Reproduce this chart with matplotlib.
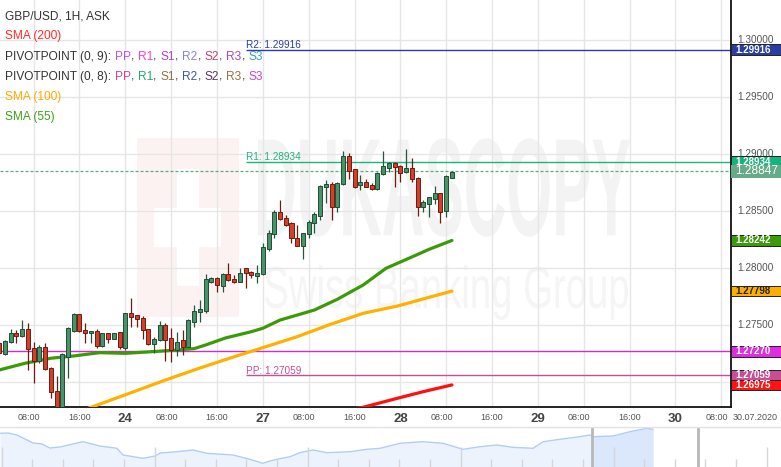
import matplotlib
matplotlib.use("Agg")
import numpy as np
import matplotlib.pyplot as plt
from matplotlib.patches import Rectangle, PathPatch
from matplotlib.lines import Line2D
from matplotlib.textpath import TextPath
from matplotlib.font_manager import FontProperties
from matplotlib.transforms import Affine2D, blended_transform_factory

plt.rcParams['font.family'] = ['Liberation Sans', 'DejaVu Sans']

W, H = 781, 467

# hourly candles, hour 0 = 24.07 00:00
candle_hours = np.arange(-22, 58)
opens = [1.27340, 1.27249, 1.27348, 1.27427, 1.27407, 1.27462, 1.27296, 1.27187, 1.27304, 1.27123,
         1.26919, 1.26700, 1.27223, 1.27451, 1.27594, 1.27457, 1.27427, 1.27451, 1.27316, 1.27433,
         1.27381, 1.27436, 1.27302, 1.27603, 1.27585, 1.27559, 1.27462, 1.27331, 1.27369, 1.27500,
         1.27384, 1.27281, 1.27369, 1.27310, 1.27530, 1.27617, 1.27623, 1.27880, 1.27913, 1.27845,
         1.27948, 1.27904, 1.27880, 1.27997, 1.27965, 1.27933, 1.27945, 1.28167, 1.28296, 1.28489,
         1.28436, 1.28392, 1.28266, 1.28196, 1.28296, 1.28398, 1.28459, 1.28708, 1.28737, 1.28533,
         1.28734, 1.28983, 1.28866, 1.28731, 1.28752, 1.28728, 1.28693, 1.28822, 1.28880, 1.28924,
         1.28895, 1.28839, 1.28874, 1.28787, 1.28532, 1.28562, 1.28605, 1.28655, 1.28500, 1.28793]
highs = [1.27354, 1.27369, 1.27462, 1.27457, 1.27544, 1.27515, 1.27354, 1.27322, 1.27340, 1.27135,
         1.27053, 1.27252, 1.27480, 1.27606, 1.27600, 1.27515, 1.27448, 1.27462, 1.27433, 1.27433,
         1.27433, 1.27436, 1.27609, 1.27734, 1.27591, 1.27579, 1.27462, 1.27392, 1.27535, 1.27515,
         1.27471, 1.27442, 1.27457, 1.27550, 1.27673, 1.27720, 1.27945, 1.27924, 1.27919, 1.27954,
         1.28041, 1.27939, 1.28003, 1.28003, 1.27974, 1.28027, 1.28223, 1.28334, 1.28512, 1.28597,
         1.28465, 1.28407, 1.28378, 1.28304, 1.28421, 1.28495, 1.28728, 1.28772, 1.28758, 1.28758,
         1.29027, 1.29006, 1.28866, 1.28816, 1.28778, 1.28743, 1.28845, 1.29027, 1.28933, 1.28933,
         1.28904, 1.29041, 1.28962, 1.28796, 1.28597, 1.28620, 1.28720, 1.28661, 1.28816, 1.28851]
lows = [1.27237, 1.27237, 1.27340, 1.27345, 1.27398, 1.27106, 1.26995, 1.27170, 1.27106, 1.26857,
        1.26650, 1.26650, 1.27033, 1.27442, 1.27442, 1.27340, 1.27345, 1.27296, 1.27304, 1.27340,
        1.27381, 1.27293, 1.27281, 1.27486, 1.27486, 1.27378, 1.27325, 1.27252, 1.27363, 1.27187,
        1.27179, 1.27228, 1.27237, 1.27304, 1.27480, 1.27530, 1.27603, 1.27866, 1.27787, 1.27793,
        1.27889, 1.27872, 1.27875, 1.27828, 1.27916, 1.27872, 1.27940, 1.28152, 1.28266, 1.28421,
        1.28369, 1.28223, 1.28193, 1.28076, 1.28261, 1.28304, 1.28421, 1.28568, 1.28421, 1.28495,
        1.28728, 1.28778, 1.28699, 1.28684, 1.28714, 1.28684, 1.28684, 1.28816, 1.28845, 1.28714,
        1.28758, 1.28836, 1.28758, 1.28456, 1.28494, 1.28450, 1.28562, 1.28392, 1.28450, 1.28787]
closes = [1.27252, 1.27360, 1.27427, 1.27407, 1.27462, 1.27287, 1.27187, 1.27304, 1.27111, 1.26910,
          1.26700, 1.27243, 1.27471, 1.27594, 1.27451, 1.27427, 1.27448, 1.27316, 1.27427, 1.27381,
          1.27433, 1.27304, 1.27603, 1.27573, 1.27550, 1.27457, 1.27331, 1.27378, 1.27500, 1.27369,
          1.27281, 1.27354, 1.27310, 1.27544, 1.27623, 1.27638, 1.27901, 1.27913, 1.27851, 1.27945,
          1.27895, 1.27880, 1.27954, 1.27954, 1.27936, 1.27954, 1.28182, 1.28304, 1.28489, 1.28427,
          1.28378, 1.28261, 1.28196, 1.28304, 1.28401, 1.28474, 1.28720, 1.28737, 1.28533, 1.28743,
          1.28983, 1.28854, 1.28708, 1.28752, 1.28714, 1.28693, 1.28836, 1.28895, 1.28924, 1.28883,
          1.28836, 1.28874, 1.28778, 1.28538, 1.28582, 1.28620, 1.28661, 1.28494, 1.28807, 1.28845]

sma55_hours = [-22, -17.5, -13, -9, -4.5, 0, 4.5, 9, 12, 14, 17.5, 22, 24, 27, 33, 37, 41.5, 45.5, 50.5, 53, 57]
sma55_vals = [1.27106, 1.27165, 1.27209, 1.27229, 1.27258, 1.27252, 1.27266, 1.27281, 1.27293, 1.27325, 1.27387,
              1.27442, 1.27472, 1.27544, 1.27632, 1.27726, 1.27851, 1.27998, 1.28108, 1.28164, 1.28242]
sma100_hours = [-7, 1.5, 7, 13, 18.5, 24, 30, 35.5, 41.5, 47.5, 53, 57]
sma100_vals = [1.26760, 1.26916, 1.27018, 1.27123, 1.27214, 1.27302, 1.27398, 1.27501, 1.27603, 1.27667,
               1.27743, 1.27798]
sma200_hours = [37, 41.5, 47.5, 52, 57]
sma200_vals = [1.26740, 1.26779, 1.26858, 1.26916, 1.26975]

pivot_start = 21
r2_level, r1_level, pp_level = 1.29916, 1.28934, 1.27059
s_level = 1.27270
last_price = 1.28847

price_ticks = [1.270, 1.275, 1.280, 1.285, 1.290, 1.295, 1.300]
time_ticks = [-16, -8, 0, 8, 16, 24, 32, 40, 48, 56, 64, 72, 80, 88, 96, 104]
time_labels = ["08:00", "16:00", "24", "08:00", "16:00", "27", "08:00", "16:00", "28",
               "08:00", "16:00", "29", "08:00", "16:00", "30", "08:00"]

pivot_names = ["PP", "R1", "S1", "R2", "S2", "R3", "S3"]
pivot9_colors = ["#c450e2", "#f03ce6", "#a444d6", "#8a82e0", "#c2406e", "#aa48c6", "#3aa2c2"]
pivot8_colors = ["#d0449a", "#22a874", "#8f7240", "#3f55b0", "#5e3563", "#a07040", "#d444c8"]

# navigator (days, height)
nav_days = [0, 0.26, 0.56, 1.08, 1.37, 1.63, 1.96, 2.52, 2.71, 3.27, 3.82, 4.02, 4.67, 5.07, 5.23, 5.78,
            6.31, 6.76, 7.61, 8.17, 8.59, 8.82, 9.05, 9.48, 9.80, 10.23, 10.69, 11.44, 11.99, 12.42,
            13.07, 13.82, 14.48, 15.13, 15.69, 16.24, 16.76, 17.42, 17.75, 18.30, 18.95, 19.28, 19.38,
            20.03, 20.59, 21.14, 21.34]
nav_level = [33.7, 34, 32, 24, 23, 19, 20, 24, 25.3, 21, 18.7, 12, 8.7, 11, 14, 15.3,
             17, 13.7, 12, 7.7, 3.7, 6, 7.7, 10.3, 14.3, 17, 14.3, 15.3, 17.7, 18.7,
             23.7, 25.3, 23.7, 17.7, 20.3, 22, 19.7, 18.7, 25.3, 27.7, 30.3, 32, 30.3,
             31, 35.3, 38.7, 37.7]

fig = plt.figure(figsize=(W / 100, H / 100), dpi=100)
fig.patch.set_facecolor("white")
ax = fig.add_axes([0, 60 / H, 731 / W, 407 / H])
ax.set_xlim(-21.87, 105.7)
ax.set_ylim(1.267814, 1.303508)
ax.set_xticks([])
ax.set_yticks([])
for s in ["top", "left"]:
    ax.spines[s].set_visible(False)
for s in ["right", "bottom"]:
    ax.spines[s].set_color("#111111")
    ax.spines[s].set_linewidth(1.3)

for p in price_ticks:
    ax.axhline(p, color="#e6e6e6", lw=1, zorder=1)
for t in time_ticks:
    ax.axvline(t, color="#e6e6e6", lw=1, zorder=1)

# watermark
px_ax = Affine2D().scale(1 / 731, -1 / 407).translate(0, 1) + ax.transAxes
ax.add_patch(Rectangle((137.3, 138.3), 101.7, 178.4, transform=px_ax, fc="#fdf2f2", ec="none", zorder=0.5))
ax.add_patch(Rectangle((176.7, 169), 22.3, 117, transform=px_ax, fc="white", ec="none", zorder=0.6))
ax.add_patch(Rectangle((154.3, 207.7), 66.7, 39, transform=px_ax, fc="white", ec="none", zorder=0.6))


def fitted_text(s, fp, box, color):
    x0, y0, x1, y1 = box
    tp = TextPath((0, 0), s, size=100, prop=fp)
    ext = tp.get_extents()
    tr = Affine2D().translate(-ext.x0, -ext.y1).scale((x1 - x0) / ext.width, -(y1 - y0) / ext.height).translate(x0, y0)
    ax.add_patch(PathPatch(tr.transform_path(tp), transform=px_ax, fc=color, ec="none", zorder=0.7))


fitted_text("DUKASCOPY", FontProperties(family="Liberation Sans", weight="bold"), (258, 138.3, 630, 236.7), "#f3f3f3")
fitted_text("Swiss Banking Group", FontProperties(family="Liberation Sans"), (265, 265, 628, 320), "#f5f5f5")

# moving averages
ax.plot(sma100_hours, sma100_vals, color="#ffb000", lw=2.3, zorder=3, solid_capstyle="round")
ax.plot(sma55_hours, sma55_vals, color="#3c9a08", lw=2.3, zorder=3, solid_capstyle="round")
ax.plot(sma200_hours, sma200_vals, color="#ff1010", lw=2.3, zorder=3, solid_capstyle="round")

# pivot / price lines
right = ax.get_xlim()[1]
ax.hlines(r2_level, pivot_start, right, color="#2b3d9e", lw=1, zorder=2)
ax.hlines(r1_level, pivot_start, right, color="#1db37a", lw=1, zorder=2)
ax.hlines(pp_level, pivot_start, right, color="#c44f95", lw=1, zorder=2)
ax.axhline(s_level, color="#d42ad4", lw=1, zorder=2)
ax.axhline(last_price, color="#5ea884", lw=0.9, ls=(0, (2.4, 1.6)), zorder=2)
for lvl, name, col in [(r2_level, "R2", "#2b3d9e"), (r1_level, "R1", "#1db37a"), (pp_level, "PP", "#c44f95")]:
    ax.annotate(f"{name}: {lvl:.5f}", (pivot_start, lvl), xytext=(0, 1.1), textcoords="offset points",
                ha="left", va="baseline", fontsize=7.2, color=col, zorder=4)

# candles
o = np.array(opens)
c = np.array(closes)
up = c >= o
wick_col = np.where(up, "#28553b", "#6b1d12")
ax.vlines(candle_hours, lows, highs, colors=wick_col, lw=0.9, zorder=4)
ax.bar(candle_hours, np.maximum(np.abs(c - o), 0.00005), bottom=np.minimum(o, c), width=0.7,
       color=np.where(up, "#47946a", "#d33f2a"), edgecolor=np.where(up, "#1f4d33", "#6b1d12"),
       linewidth=0.7, zorder=5)

# right axis price labels
for p in price_ticks:
    ax.text(737 / 731, p, f"{p:.5f}", transform=ax.get_yaxis_transform(), ha="left", va="center",
            fontsize=7.2, color="#555555", clip_on=False)

bt = blended_transform_factory(fig.transFigure, ax.transData)
value_boxes = [
    (r2_level, "#2b3d9e", "white", 0.00092),
    (r1_level, "#17b37c", "white", 0.00092),
    (sma55_vals[-1], "#3d9a0c", "white", 0.00092),
    (sma100_vals[-1], "#ffad00", "#222222", 0.00092),
    (s_level, "#e02ce0", "white", 0.00092),
    (pp_level, "#c44f95", "white", 0.00092),
    (sma200_vals[-1], "#ff1414", "white", 0.00092),
    (last_price, "#66aa88", "white", 0.0011),
]
for val, fc, tc, bh in value_boxes:
    big = bh > 0.001
    fig.add_artist(Rectangle((731 / W, val - bh / 2), 50 / W, bh, transform=bt, fc=fc,
                             ec="none" if big else "#222222", lw=0.7, zorder=4))
    fig.text(735 / W, val, f"{val:.5f}", transform=bt, ha="left", va="center", color=tc,
             fontsize=8.6 if big else 7.0, fontweight="normal" if big else "bold", zorder=5)

# time labels
tt = blended_transform_factory(ax.transData, fig.transFigure)
for t, lab in zip(time_ticks, time_labels):
    if ":" in lab:
        fig.text(t - 0.8 if lab == "08:00" else t, 1 - 420 / H, lab, transform=tt, ha="center",
                 va="baseline", fontsize=6.5, color="#555555")
    else:
        fig.text(t, 1 - 421.5 / H, lab, transform=tt, ha="center", va="baseline", fontsize=9.5,
                 fontweight="bold", color="#444444")
fig.text(755 / W, 1 - 420 / H, "30.07.2020", ha="center", va="baseline", fontsize=6.5, color="#555555")

# navigator
nav = fig.add_axes([0, 0, 1, 39 / H])
nav.set_xlim(0, W / 30.6)
nav.set_ylim(0, 39)
nav.axis("off")
nd = np.array(nav_days)
nl = np.array(nav_level)
nav.fill_between(nd, nl, 0, color="#edf3fd", lw=0, zorder=1)
nav.fill_between(nd, nl, 0, where=nd >= 19.35, color="#dbe7fb", lw=0, zorder=1.5)
nav.plot(nd, nl, color="#b3cdf2", lw=1, zorder=2)
tick_days = np.arange(0, 26) + 0.055
nav.vlines(tick_days, 0, np.where(np.arange(26) % 5 == 0, 20, 8), color="#d6d6d6", lw=1, zorder=3)
nav.axvline(592 / 30.6, color="#b8b8b8", lw=2, zorder=4)
nav.axvline(698 / 30.6, color="#b8b8b8", lw=2, zorder=4)
fig.add_artist(Line2D([0, 1], [1 - 427 / H] * 2, transform=fig.transFigure, color="#e3e3e3", lw=1))

# legend rows drawn as coloured runs
px_fig = Affine2D().scale(1 / W, -1 / H).translate(0, 1) + fig.transFigure
renderer = fig.canvas.get_renderer()
dark = "#333333"


def pivot_runs(title, colors):
    runs = [(title + " ", dark)]
    for i, (n, col) in enumerate(zip(pivot_names, colors)):
        runs.append((n, col))
        if i < len(pivot_names) - 1:
            runs.append((", ", dark))
    return runs


legend_rows = [
    [("GBP/USD, 1H, ASK", dark)],
    [("SMA (200)", "#ff2a2a")],
    pivot_runs("PIVOTPOINT (0, 9):", pivot9_colors),
    pivot_runs("PIVOTPOINT (0, 8):", pivot8_colors),
    [("SMA (100)", "#ffaa00")],
    [("SMA (55)", "#3f9e1c")],
]
space_px = 0.278 * 12
for k, runs in enumerate(legend_rows):
    x = 5.0
    y = 19.3 + 20.2 * k
    for txt, col in runs:
        core = txt.rstrip()
        t = fig.text(x, y, core, transform=px_fig, ha="left", va="baseline", fontsize=8.6, color=col, zorder=6)
        x += t.get_window_extent(renderer).width + 0.3 + (len(txt) - len(core)) * space_px

fig.savefig("out.png", dpi=100, facecolor="white")
